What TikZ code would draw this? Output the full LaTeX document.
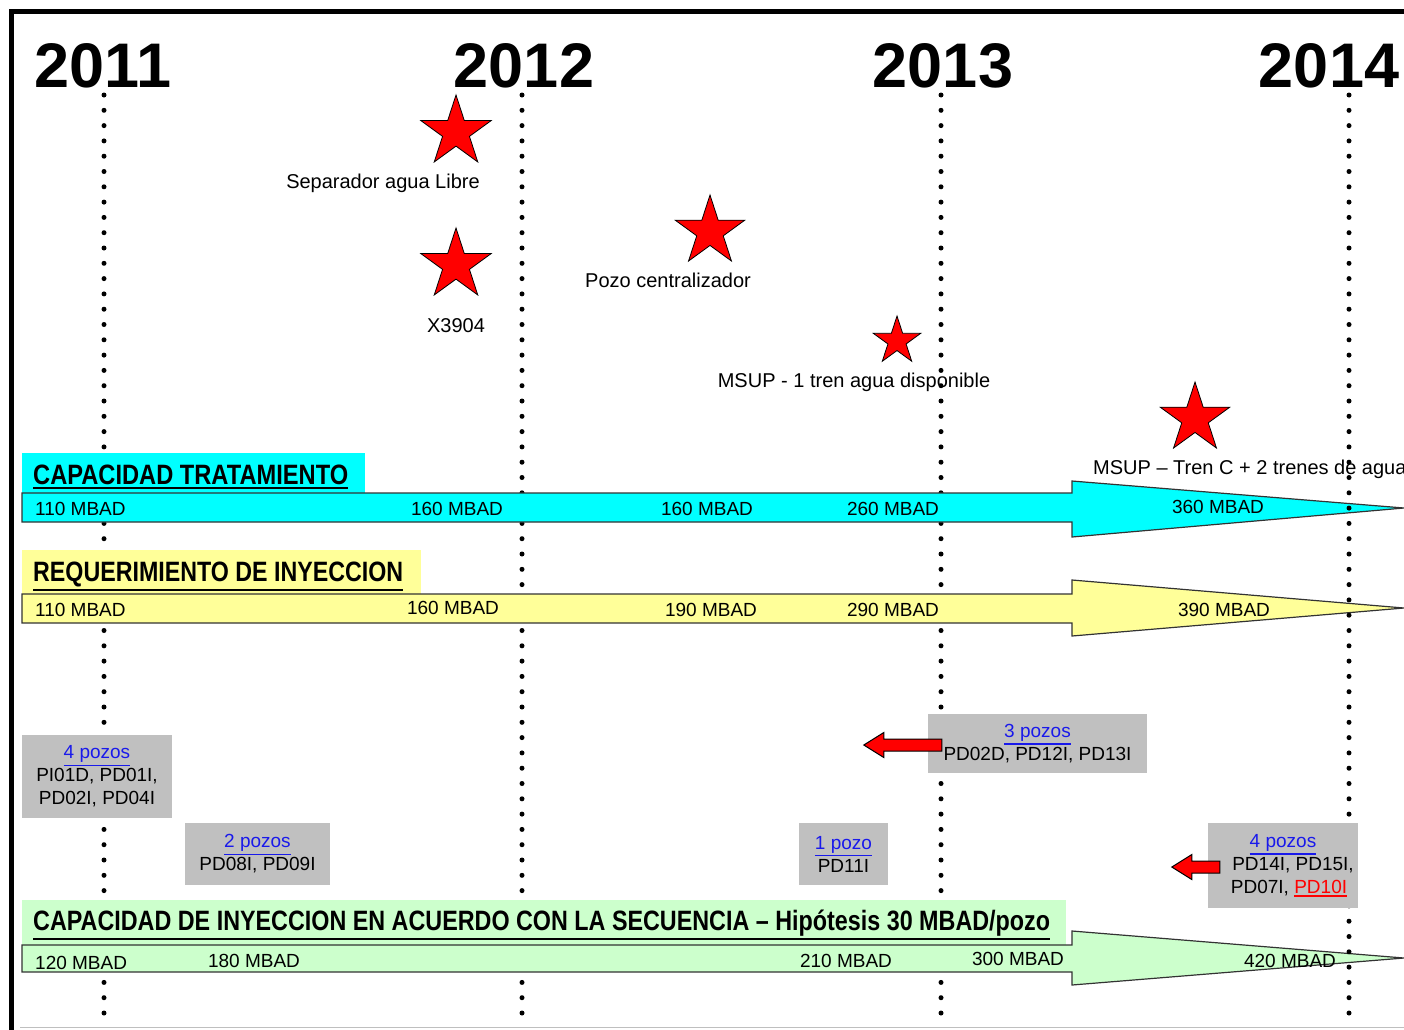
\documentclass[tikz,border=0pt]{standalone}
\usepackage{fontspec}
\setmainfont{Liberation Sans}
\usepackage{graphicx}
\usetikzlibrary{shapes.geometric}

\definecolor{capcyan}{RGB}{0,255,255}
\definecolor{reqyellow}{RGB}{255,255,153}
\definecolor{inygreen}{RGB}{204,255,204}
\definecolor{boxgray}{RGB}{192,192,192}
\definecolor{linkblue}{RGB}{25,25,235}

\newcommand{\mbad}{\fontsize{19}{23}\selectfont}
\newcommand{\thickul}[3]{\leavevmode\vtop{\hbox{#3}\kern#1\hrule height #2}}
\newcommand{\pozolink}[1]{\textcolor{linkblue}{\thickul{2pt}{1.4pt}{#1}}}
\newcommand{\titletxt}[2]{\resizebox{#1}{\height}{\bfseries\thickul{2.5pt}{2pt}{#2}}}

\begin{document}
\begin{tikzpicture}[x=1pt, y=-1pt,
  yearlbl/.style={font=\fontsize{63}{63}\selectfont\bfseries, anchor=base, inner sep=0},
  val/.style={font=\mbad, anchor=base, inner sep=0},
  hito/.style={star, star points=5, star point ratio=2.618, fill=red, draw=black, line width=0.8, inner sep=0},
  hitolbl/.style={font=\fontsize{20}{23}\selectfont, anchor=base, inner sep=0},
  titlelbl/.style={font=\fontsize{28}{28}\selectfont, anchor=base west, inner sep=0},
  bigarrow/.style={draw=black!80, line width=1.2},
  pozobox/.style={fill=boxgray, inner sep=0, align=center, font=\mbad},
  redarrow/.style={fill=red, draw=black, line width=1},
  dotline/.style={line width=5, line cap=round, dash pattern=on 0pt off 15.3pt}]

  \clip (0,0) rectangle (1404,1029);

  % frame
  \draw[line width=5] (11.5,1040) -- (11.5,11.5) -- (1410,11.5);
  \draw[black!25, line width=1.5] (20,1027.5) -- (1410,1027.5);

  % years
  \node[yearlbl] (y2011) at (103,87) {2011};
  \node[yearlbl] (y2012) at (524,87) {2012};
  \node[yearlbl] (y2013) at (943,87) {2013};
  \node[yearlbl] (y2014) at (1329,87) {2014};

  % milestones
  \node[hito, minimum size=74] (sep) at (456,132) {};
  \node[hitolbl] (sepl) at (383,188) {Separador agua Libre};
  \node[hito, minimum size=74] (x39) at (456,265) {};
  \node[hitolbl] (x39l) at (456,332) {X3904};
  \node[hito, minimum size=73] (pozo) at (710,231.5) {};
  \node[hitolbl] (pozol) at (668,287) {Pozo centralizador};
  \node[hito, minimum size=50] (msup1) at (897,341) {};
  \node[hitolbl] (msup1l) at (854,387) {MSUP - 1 tren agua disponible};
  \node[hito, minimum size=73] (msupc) at (1195,418.5) {};
  \node[hitolbl, anchor=base west] (msupcl) at (1093,474) {MSUP -- Tren C + 2 trenes de agua};

  % year lines
  \foreach \x in {104,522,941}
    \draw[dotline] (\x,95) -- (\x,1014);

  % capacidad tratamiento
  \fill[capcyan] (22,453) rectangle (365,494);
  \draw[bigarrow, fill=capcyan] (22,493) -- (1072,493) -- (1072,481) -- (1404,508)
    -- (1072,537) -- (1072,522) -- (22,522) -- cycle;
  \node[titlelbl] (tcap) at (33,484) {\titletxt{315pt}{CAPACIDAD TRATAMIENTO}};
  \node[val, anchor=base west] (c1) at (35,515) {110 MBAD};
  \node[val] (c2) at (457,515) {160 MBAD};
  \node[val] (c3) at (707,515) {160 MBAD};
  \node[val] (c4) at (893,515) {260 MBAD};
  \node[val] (c5) at (1218,513) {360 MBAD};

  % requerimiento
  \fill[reqyellow] (22,550) rectangle (421,595);
  \draw[bigarrow, fill=reqyellow] (22,594) -- (1072,594) -- (1072,580) -- (1404,608)
    -- (1072,636) -- (1072,623) -- (22,623) -- cycle;
  \node[titlelbl] (treq) at (33,581) {\titletxt{370pt}{REQUERIMIENTO DE INYECCION}};
  \node[val, anchor=base west] (r1) at (35,616) {110 MBAD};
  \node[val] (r2) at (453,614) {160 MBAD};
  \node[val] (r3) at (711,616) {190 MBAD};
  \node[val] (r4) at (893,616) {290 MBAD};
  \node[val] (r5) at (1224,616) {390 MBAD};

  % capacidad de inyeccion
  \fill[inygreen] (22,900) rectangle (1066,946);
  \draw[bigarrow, fill=inygreen] (22,945) -- (1072,945) -- (1072,931) -- (1404,958)
    -- (1072,985) -- (1072,972) -- (22,972) -- cycle;
  \node[titlelbl] (tiny) at (33,930) {\titletxt{1017pt}{CAPACIDAD DE INYECCION EN ACUERDO CON LA SECUENCIA -- Hipótesis 30 MBAD/pozo}};
  \node[val, anchor=base west] (i1) at (35,969) {120 MBAD};
  \node[val] (i2) at (254,967) {180 MBAD};
  \node[val] (i3) at (846,967) {210 MBAD};
  \node[val] (i4) at (1018,965) {300 MBAD};
  \node[val] (i5) at (1290,967) {420 MBAD};

  \draw[dotline] (1349,95) -- (1349,1014);

  % pozos
  \node[pozobox, minimum width=150, minimum height=83] (pz1) at (97,776.5)
    {\pozolink{4 pozos}\\PI01D, PD01I,\\PD02I, PD04I};
  \node[pozobox, minimum width=145, minimum height=62] (pz2) at (257.5,854)
    {\pozolink{2 pozos}\\PD08I, PD09I};
  \node[pozobox, minimum width=219, minimum height=59] (pz3) at (1037.5,743.5)
    {\pozolink{3 pozos}\\PD02D, PD12I, PD13I};
  \node[pozobox, minimum width=89, minimum height=62] (pz4) at (843.5,854)
    {\pozolink{1 pozo}\\PD11I};
  \node[pozobox, minimum width=150, minimum height=85] (pz5) at (1283,865.5)
    {\pozolink{4 pozos}\\\hspace*{20pt}PD14I, PD15I,\\\hspace*{12pt}PD07I, \textcolor{red}{\thickul{2pt}{1.4pt}{PD10I}}};

  % red arrows
  \draw[redarrow] ([shift={(14,1.5)}]pz3.west) -- ++(0,6) -- ++(-58,0) -- ++(0,6.5)
    -- ++(-20,-12.5) -- ++(20,-12.5) -- ++(0,6.5) -- ++(58,0) -- cycle;
  \draw[redarrow] ([shift={(12,1.5)}]pz5.west) -- ++(0,6) -- ++(-28,0) -- ++(0,6.5)
    -- ++(-20,-12.5) -- ++(20,-12.5) -- ++(0,6.5) -- ++(28,0) -- cycle;
\end{tikzpicture}
\end{document}
